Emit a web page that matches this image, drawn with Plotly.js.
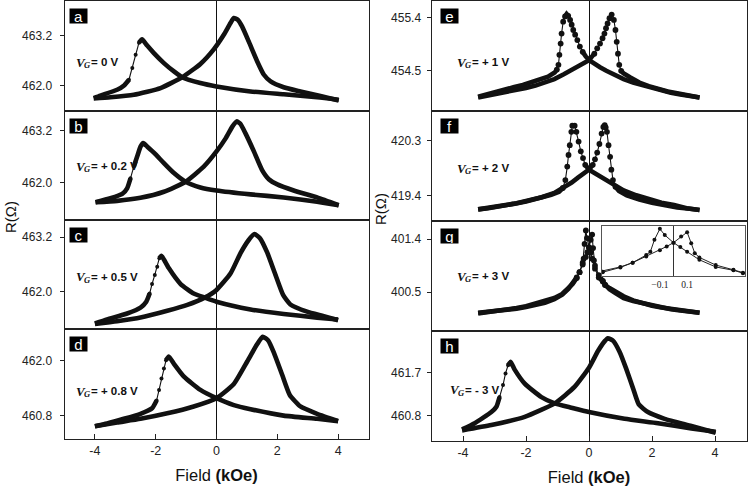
<!DOCTYPE html>
<html>
<head>
<meta charset="utf-8">
<script src="https://cdn.plot.ly/plotly-3.0.1.min.js"></script>
<style>
  html, body { margin: 0; padding: 0; background: #fff; }
  #chart { width: 750px; height: 488px; }
</style>
</head>
<body>
<div id="chart"></div>
<script>
// Magnetoresistance loops R(H) at different gate voltages.
// H in kOe, R in ohm. "Down" = sweep from +H to -H, "Up" = sweep from -H to +H.

const aDownH = [4.02, 3.31, 2.21, 1.12, 0, -0.53, -1.13, -1.40, -1.73, -2.06, -2.28, -2.45, -2.55, -2.66, -2.77, -2.88, -3.03, -3.27, -3.82, -4.04];
const aDownR = [461.66, 461.72, 461.79, 461.86, 461.98, 462.06, 462.20, 462.34, 462.54, 462.78, 462.96, 463.11, 463.03, 462.74, 462.42, 462.14, 462.01, 461.90, 461.76, 461.70];
const aUpH = [-4.04, -3.49, -2.72, -1.84, -1.13, -0.53, -0.09, 0.24, 0.46, 0.57, 0.70, 0.84, 1.06, 1.34, 1.56, 1.78, 2.21, 2.76, 3.42, 4.02];
const aUpR = [461.69, 461.72, 461.78, 461.94, 462.20, 462.52, 462.87, 463.22, 463.50, 463.62, 463.58, 463.42, 463.06, 462.58, 462.26, 462.10, 461.96, 461.86, 461.75, 461.64];

const bDownH = [4.02, 3.31, 2.21, 1.12, 0, -0.53, -1.02, -1.40, -1.73, -2.06, -2.28, -2.41, -2.50, -2.61, -2.72, -2.83, -2.94, -3.10, -3.49, -3.98];
const bDownR = [461.48, 461.56, 461.66, 461.73, 461.82, 461.89, 462.02, 462.22, 462.45, 462.69, 462.83, 462.91, 462.83, 462.60, 462.37, 462.10, 461.87, 461.74, 461.64, 461.55];
const bUpH = [-3.98, -3.27, -2.50, -1.73, -1.02, -0.42, 0, 0.30, 0.52, 0.66, 0.79, 0.95, 1.23, 1.50, 1.72, 2.00, 2.54, 3.31, 4.02];
const bUpR = [461.55, 461.58, 461.65, 461.79, 462.02, 462.37, 462.72, 463.02, 463.29, 463.41, 463.35, 463.14, 462.72, 462.29, 462.08, 461.96, 461.82, 461.66, 461.48];

const cDownH = [4.00, 3.31, 2.21, 1.12, 0, -0.39, -0.75, -1.18, -1.57, -1.73, -1.81, -1.88, -1.95, -2.03, -2.12, -2.20, -2.31, -2.50, -2.94, -3.60, -4.00];
const cDownR = [461.39, 461.43, 461.51, 461.61, 461.78, 461.87, 461.96, 462.17, 462.52, 462.71, 462.79, 462.74, 462.55, 462.37, 462.17, 461.96, 461.78, 461.65, 461.52, 461.39, 461.30];
const cUpH = [-4.00, -3.27, -2.50, -1.62, -0.96, -0.39, 0, 0.46, 0.79, 1.06, 1.25, 1.43, 1.67, 1.94, 2.19, 2.43, 2.98, 3.53, 4.00];
const cUpR = [461.29, 461.35, 461.43, 461.58, 461.71, 461.87, 462.04, 462.40, 462.85, 463.14, 463.27, 463.18, 462.86, 462.37, 461.93, 461.72, 461.56, 461.46, 461.37];

const dDownH = [4.00, 3.31, 2.21, 1.12, 0.57, 0, -0.53, -1.07, -1.40, -1.57, -1.66, -1.73, -1.81, -1.89, -1.97, -2.12, -2.50, -3.05, -3.60, -4.00];
const dDownR = [460.68, 460.73, 460.80, 460.94, 461.03, 461.18, 461.36, 461.65, 461.93, 462.09, 462.01, 461.83, 461.61, 461.36, 461.13, 460.96, 460.84, 460.73, 460.63, 460.57];
const dUpH = [-4.00, -3.27, -2.50, -1.62, -0.75, 0, 0.57, 1.01, 1.34, 1.52, 1.70, 1.89, 2.16, 2.41, 2.76, 3.31, 4.00];
const dUpR = [460.57, 460.65, 460.73, 460.85, 461.00, 461.18, 461.49, 461.98, 462.36, 462.52, 462.44, 462.17, 461.69, 461.25, 461.00, 460.84, 460.68];

const eDownH = [3.51, 3.2, 2.9, 2.6, 2.3, 2.0, 1.7, 1.4, 1.1, 0.8, 0.55, 0.35, 0.15, 0.03, -0.10, -0.20, -0.29, -0.37, -0.44, -0.50, -0.55, -0.60, -0.66, -0.71, -0.76, -0.82, -0.87, -0.90, -0.94, -0.97, -1.02, -1.09, -1.3, -1.5, -1.8, -2.1, -2.4, -2.7, -3.0, -3.3, -3.52];
const eDownR = [454.05, 454.07, 454.10, 454.13, 454.17, 454.21, 454.25, 454.30, 454.36, 454.43, 454.50, 454.56, 454.63, 454.67, 454.74, 454.82, 454.91, 455.02, 455.11, 455.19, 455.28, 455.36, 455.43, 455.46, 455.42, 455.33, 455.13, 454.96, 454.77, 454.60, 454.52, 454.47, 454.40, 454.36, 454.31, 454.26, 454.22, 454.18, 454.14, 454.09, 454.06];
const eUpH = [-3.52, -3.2, -2.9, -2.6, -2.3, -2.0, -1.7, -1.4, -1.1, -0.8, -0.55, -0.35, -0.15, 0, 0.17, 0.26, 0.35, 0.43, 0.49, 0.54, 0.59, 0.65, 0.72, 0.79, 0.84, 0.88, 0.92, 0.96, 1.02, 1.09, 1.3, 1.6, 1.9, 2.2, 2.5, 2.8, 3.1, 3.3, 3.51];
const eUpR = [454.05, 454.08, 454.11, 454.14, 454.17, 454.21, 454.25, 454.30, 454.36, 454.44, 454.52, 454.57, 454.63, 454.68, 454.79, 454.88, 454.96, 455.05, 455.13, 455.22, 455.30, 455.39, 455.45, 455.36, 455.19, 454.99, 454.79, 454.60, 454.50, 454.46, 454.39, 454.30, 454.24, 454.19, 454.15, 454.12, 454.09, 454.07, 454.05];

const fDownH = [3.51, 3.1, 2.7, 2.3, 1.9, 1.5, 1.1, 0.8, 0.55, 0.35, 0.17, 0, -0.12, -0.19, -0.26, -0.33, -0.40, -0.455, -0.49, -0.53, -0.56, -0.61, -0.65, -0.69, -0.75, -0.83, -0.95, -1.2, -1.6, -2.0, -2.4, -2.8, -3.2, -3.52];
const fDownR = [419.17, 419.20, 419.25, 419.29, 419.35, 419.41, 419.49, 419.58, 419.66, 419.72, 419.78, 419.83, 419.91, 420.02, 420.13, 420.29, 420.45, 420.55, 420.56, 420.55, 420.45, 420.23, 420.07, 419.88, 419.66, 419.53, 419.47, 419.42, 419.36, 419.31, 419.27, 419.23, 419.20, 419.18];
const fUpH = [-3.52, -3.1, -2.7, -2.3, -1.9, -1.5, -1.1, -0.8, -0.55, -0.35, -0.17, 0, 0.12, 0.19, 0.26, 0.33, 0.40, 0.455, 0.50, 0.53, 0.57, 0.62, 0.67, 0.71, 0.76, 0.84, 0.95, 1.2, 1.6, 2.0, 2.4, 2.8, 3.2, 3.51];
const fUpR = [419.18, 419.21, 419.24, 419.28, 419.33, 419.38, 419.45, 419.54, 419.62, 419.70, 419.77, 419.83, 419.91, 420.00, 420.11, 420.25, 420.42, 420.53, 420.56, 420.52, 420.45, 420.23, 420.04, 419.83, 419.66, 419.55, 419.48, 419.41, 419.34, 419.29, 419.25, 419.21, 419.19, 419.17];

const gDownH = [3.51, 3.2, 2.9, 2.6, 2.3, 2.0, 1.7, 1.4, 1.1, 0.85, 0.65, 0.51, 0.44, 0.31, 0.19, 0.10, 0.05, 0, -0.064, -0.10, -0.14, -0.17, -0.20, -0.30, -0.39, -0.52, -0.65, -0.85, -1.1, -1.4, -1.7, -2.0, -2.3, -2.6, -2.9, -3.2, -3.52];
const gDownR = [400.15, 400.17, 400.19, 400.21, 400.24, 400.27, 400.31, 400.36, 400.43, 400.50, 400.57, 400.62, 400.68, 400.75, 400.90, 401.07, 401.17, 401.26, 401.42, 401.55, 401.32, 401.07, 401.00, 400.84, 400.75, 400.65, 400.56, 400.46, 400.38, 400.32, 400.28, 400.25, 400.22, 400.20, 400.18, 400.17, 400.15];
const gUpH = [-3.52, -3.2, -2.9, -2.6, -2.3, -2.0, -1.7, -1.4, -1.1, -0.85, -0.65, -0.52, -0.39, -0.30, -0.20, -0.10, -0.05, 0, 0.056, 0.10, 0.13, 0.156, 0.19, 0.31, 0.44, 0.51, 0.65, 0.85, 1.1, 1.4, 1.7, 2.0, 2.3, 2.6, 2.9, 3.2, 3.51];
const gUpR = [400.14, 400.16, 400.18, 400.20, 400.23, 400.26, 400.30, 400.34, 400.40, 400.47, 400.56, 400.64, 400.74, 400.84, 400.97, 401.10, 401.18, 401.26, 401.39, 401.48, 401.25, 401.04, 400.95, 400.79, 400.69, 400.63, 400.55, 400.48, 400.40, 400.35, 400.31, 400.27, 400.24, 400.21, 400.19, 400.17, 400.15];

const hDownH = [4.02, 3.25, 2.19, 1.13, 0, -0.56, -1.09, -1.51, -2.04, -2.36, -2.49, -2.57, -2.65, -2.73, -2.84, -2.94, -3.10, -3.63, -4.03];
const hDownR = [460.47, 460.54, 460.65, 460.74, 460.88, 460.97, 461.06, 461.19, 461.47, 461.76, 461.92, 461.85, 461.68, 461.44, 461.19, 460.99, 460.88, 460.65, 460.52];
const hUpH = [-4.03, -3.10, -2.04, -1.09, -0.46, 0, 0.29, 0.50, 0.60, 0.76, 0.97, 1.18, 1.40, 1.58, 1.87, 2.40, 3.25, 4.02];
const hUpR = [460.50, 460.61, 460.78, 461.06, 461.40, 461.80, 462.15, 462.35, 462.41, 462.36, 462.13, 461.78, 461.37, 461.04, 460.88, 460.74, 460.59, 460.45];

// Tick labels
const fieldTicks = [-4, -2, 0, 2, 4];
const fieldTickText = ['-4', '-2', '0', '2', '4'];
const insetTicks = [-0.1, 0.1];
const insetTickText = ['\u22120.1', '0.1'];
const rTicksA = [462.0, 463.2], rTicksB = [462.0, 463.2], rTicksC = [462.0, 463.2], rTicksD = [460.8, 462.0];
const rTicksE = [454.5, 455.4], rTicksF = [419.4, 420.3], rTicksG = [400.5, 401.4], rTicksH = [460.8, 461.7];

const panelLetters = ['a', 'b', 'c', 'd', 'e', 'f', 'g', 'h'];
const gateVoltages = ['0', '+ 0.2', '+ 0.5', '+ 0.8', '+ 1', '+ 2', '+ 3', '- 3'];

// ---- layout geometry (pixels in a 750 x 488 figure) ----
const W = 750, H = 488;
const px = x => x / W;
const py = y => 1 - y / H;
const cols = [[64.5, 368.5], [431.5, 746.5]];

const panels = [
  { down: [aDownH, aDownR], up: [aUpH, aUpR], ticks: rTicksA, col: 0, y0: 1, y1: 111, range: [461.39, 464.03], coarse: false, vg: 0.445 },
  { down: [bDownH, bDownR], up: [bUpH, bUpR], ticks: rTicksB, col: 0, y0: 111, y1: 220, range: [461.14, 463.65], coarse: false, vg: 0.495 },
  { down: [cDownH, cDownR], up: [cUpH, cUpR], ticks: rTicksC, col: 0, y0: 220, y1: 328.5, range: [461.19, 463.58], coarse: false, vg: 0.475 },
  { down: [dDownH, dDownR], up: [dUpH, dUpR], ticks: rTicksD, col: 0, y0: 328.5, y1: 439, range: [460.29, 462.70], coarse: false, vg: 0.434 },
  { down: [eDownH, eDownR], up: [eUpH, eUpR], ticks: rTicksE, col: 1, y0: 1, y1: 111, range: [453.82, 455.68], coarse: true, vg: 0.445 },
  { down: [fDownH, fDownR], up: [fUpH, fUpR], ticks: rTicksF, col: 1, y0: 111, y1: 221, range: [418.99, 420.79], coarse: true, vg: 0.48 },
  { down: [gDownH, gDownR], up: [gUpH, gUpR], ticks: rTicksG, col: 1, y0: 221, y1: 331, range: [399.84, 401.71], coarse: true, vg: 0.50 },
  { down: [hDownH, hDownR], up: [hUpH, hUpR], ticks: rTicksH, col: 1, y0: 331, y1: 441, range: [460.28, 462.56], coarse: false, vg: 0.464 }
];

// Densely sampled stretches of a sweep merge into a solid band; where the
// resistance changes fast the individual readings separate into beads.
// Split a branch into those two kinds of stretch by its on-screen slope.
function splitBranch(hs, rs, pxPerH, pxPerR, limit) {
  const band = { x: [], y: [] }, beads = { x: [], y: [] };
  const last = { band: -2, beads: -2 };
  for (let k = 0; k < hs.length - 1; k++) {
    const dx = Math.abs(hs[k + 1] - hs[k]) * pxPerH;
    const dy = Math.abs(rs[k + 1] - rs[k]) * pxPerR;
    const key = dy > limit * dx ? 'beads' : 'band';
    const out = key === 'band' ? band : beads;
    if (last[key] !== k) {
      if (out.x.length) { out.x.push(null); out.y.push(null); }
      out.x.push(hs[k]); out.y.push(rs[k]);
    }
    out.x.push(hs[k + 1]); out.y.push(rs[k + 1]);
    last[key] = k + 1;
  }
  return { band, beads };
}

const ink = '#111';
const sans = 'Liberation Sans, Arial, sans-serif';
const tickFont = { family: sans, size: 12, color: '#222' };
const traces = [];
const layout = {
  width: W, height: H,
  margin: { l: 0, r: 0, t: 0, b: 0 },
  paper_bgcolor: '#fff', plot_bgcolor: '#fff',
  showlegend: false, hovermode: false,
  font: { family: sans, color: '#111' },
  annotations: []
};

panels.forEach((p, i) => {
  const n = i + 1;
  const xa = 'x' + (n === 1 ? '' : n), ya = 'y' + (n === 1 ? '' : n);
  const bottom = (i === 3 || i === 7);
  const c = cols[p.col];
  const colW = c[1] - c[0], rowH = p.y1 - p.y0;
  const pxPerH = colW / 10, pxPerR = rowH / (p.range[1] - p.range[0]);

  [p.down, p.up].forEach(br => {
    const parts = splitBranch(br[0], br[1], pxPerH, pxPerR, p.coarse ? 1.6 : 3.2);
    traces.push({
      x: parts.band.x, y: parts.band.y, xaxis: xa, yaxis: ya, type: 'scatter', hoverinfo: 'skip',
      mode: 'lines', connectgaps: false,
      line: p.coarse ? { color: ink, width: 4.6 } : { color: ink, width: 4.6, shape: 'spline', smoothing: 0.5 }
    });
    traces.push({
      x: parts.beads.x, y: parts.beads.y, xaxis: xa, yaxis: ya, type: 'scatter', hoverinfo: 'skip',
      mode: 'lines+markers', connectgaps: false,
      line: { color: ink, width: 1.1 },
      marker: { color: ink, size: p.coarse ? 5.8 : 4 }
    });
  });

  const xaxis = {
    domain: [px(c[0]), px(c[1])], range: [-5, 5], anchor: ya,
    showline: true, mirror: true, linecolor: '#222', linewidth: 1,
    showgrid: false, zeroline: true, zerolinecolor: '#111', zerolinewidth: 1,
    ticks: bottom ? 'inside' : '', ticklen: 5, tickcolor: '#222',
    tickvals: fieldTicks, ticktext: fieldTickText,
    showticklabels: bottom, tickfont: { ...tickFont, size: 12.5 }
  };
  if (bottom) {
    xaxis.title = { text: 'Field <b>(kOe)</b>', font: { family: sans, size: 16.5, color: '#111' }, standoff: 12 };
  }
  layout['xaxis' + (n === 1 ? '' : n)] = xaxis;
  layout['yaxis' + (n === 1 ? '' : n)] = {
    domain: [py(p.y1), py(p.y0)], range: p.range, anchor: xa,
    showline: true, mirror: true, linecolor: '#222', linewidth: 1,
    showgrid: false, zeroline: false,
    ticks: 'outside', ticklen: 4, tickcolor: '#222',
    tickvals: p.ticks, ticktext: p.ticks.map(v => v.toFixed(1)),
    tickfont: tickFont, ticklabelstandoff: p.col === 0 ? 5 : 3
  };

  const xd = (n === 1 ? 'x' : 'x' + n) + ' domain';
  const yd = (n === 1 ? 'y' : 'y' + n) + ' domain';
  // panel letter in a black box
  layout.annotations.push({
    xref: xd, yref: yd, x: (p.col === 0 ? 4 : 8.5) / colW, y: 1 - 7 / rowH,
    xanchor: 'left', yanchor: 'top', showarrow: false,
    text: panelLetters[i], bgcolor: '#000', borderpad: 0, width: 17, height: 14,
    font: { family: sans, size: 15, color: '#fff' }
  });
  // gate voltage label: italic V with a lowered G, then the value
  const vgx = (p.col === 0 ? 9 : (i === 7 ? 16 : 23)) / colW;
  const common = { xref: xd, yref: yd, x: vgx, y: p.vg, xanchor: 'left', yanchor: 'middle', showarrow: false };
  layout.annotations.push({ ...common, text: '<b><i>V</i></b>',
    font: { family: 'Liberation Serif, serif', size: 13, color: '#111' } });
  layout.annotations.push({ ...common, xshift: 8, yshift: -3, text: '<b><i>G</i></b>',
    font: { family: 'Liberation Serif, serif', size: 8.5, color: '#111' } });
  layout.annotations.push({ ...common, xshift: 15.5, text: '<b>= ' + gateVoltages[i] + ' V</b>',
    font: { family: sans, size: 11.5, color: '#111' } });
});

// inset: close-up of panel g around zero field
[[gDownH, gDownR], [gUpH, gUpR]].forEach(br => {
  traces.push({
    x: br[0], y: br[1], xaxis: 'x9', yaxis: 'y9', type: 'scatter', hoverinfo: 'skip',
    mode: 'lines+markers', line: { color: '#222', width: 1 }, marker: { color: '#111', size: 4 }
  });
});
layout.xaxis9 = {
  domain: [px(602), px(745)], range: [-0.525, 0.525], anchor: 'y9',
  showline: true, mirror: true, linecolor: '#555', linewidth: 1,
  showgrid: false, zeroline: true, zerolinecolor: '#333', zerolinewidth: 1,
  ticks: '', tickvals: insetTicks, ticktext: insetTickText,
  tickfont: { family: 'Liberation Serif, serif', size: 9.5, color: '#222' }
};
layout.yaxis9 = {
  domain: [py(276), py(226)], range: [400.56, 401.61], anchor: 'x9',
  showline: true, mirror: true, linecolor: '#555', linewidth: 1,
  showgrid: false, zeroline: false, showticklabels: false, ticks: ''
};

// shared resistance axis titles
layout.annotations.push({
  xref: 'paper', yref: 'paper', x: px(10), y: py(217), xanchor: 'center', yanchor: 'middle',
  textangle: -90, showarrow: false, text: 'R(\u03a9)',
  font: { family: sans, size: 15, color: '#111' }
});
layout.annotations.push({
  xref: 'paper', yref: 'paper', x: px(380), y: py(209), xanchor: 'center', yanchor: 'middle',
  textangle: -90, showarrow: false, text: 'R(\u03a9)',
  font: { family: sans, size: 15, color: '#111' }
});

Plotly.newPlot('chart', traces, layout, { staticPlot: true, displayModeBar: false });
</script>
</body>
</html>
